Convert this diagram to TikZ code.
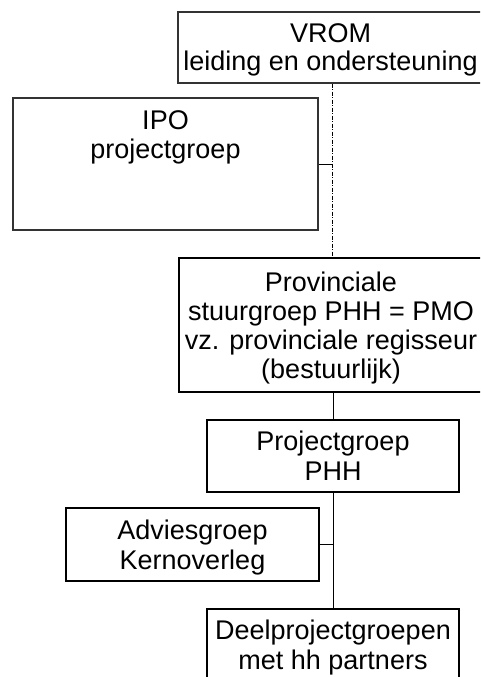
\documentclass[tikz,border=0pt]{standalone}
\usepackage{fontspec}
\setmainfont{Liberation Sans}
\begin{document}
\begin{tikzpicture}[x=1pt,y=1pt,
  boxbase/.style={draw, rectangle, inner sep=0pt, align=center, text depth=0pt,
    font=\fontsize{27}{30}\selectfont},
  thinbox/.style={boxbase, draw=black!80, line width=1.3pt},
  midbox/.style={boxbase, line width=1.7pt},
  thickbox/.style={boxbase, line width=2.3pt},
  conn/.style={draw, line width=0.9pt},
  dashline/.style={draw, line width=0.8pt, dash pattern=on 4pt off 1.5pt on 1pt off 1.5pt}]
\useasboundingbox (0,0) rectangle (480,-677);
\clip (0,0) rectangle (480,-677);

\node[thinbox, minimum width=305pt, minimum height=71pt,
  font=\fontsize{27}{28}\selectfont] (vrom) at (330.5,-47.5)
  {VROM\\leiding en ondersteuning};
\node[thinbox, minimum width=305pt, minimum height=132pt,
  font=\fontsize{27}{29}\selectfont] (ipo) at (165.5,-164)
  {IPO\\projectgroep\\\mbox{}\\\mbox{}};
\node[thickbox, minimum width=304pt, minimum height=134pt,
  font=\fontsize{27}{29}\selectfont] (prov) at (331,-325)
  {Provinciale\\stuurgroep PHH = PMO\\vz. provinciale regisseur\\(bestuurlijk)};
\node[midbox, minimum width=252pt, minimum height=72pt] (proj) at (333,-456)
  {Projectgroep\\PHH};
\node[midbox, minimum width=253pt, minimum height=73pt] (adv) at (192.5,-544.5)
  {Adviesgroep\\Kernoverleg};
\node[midbox, minimum width=252pt, minimum height=72pt] (deel) at (333,-645)
  {Deelprojectgroepen\\met hh partners};

\coordinate (j1) at (332,-164);
\draw[dashline] (vrom.south -| j1) -- (prov.north -| j1);
\draw[conn] (ipo.east) -- (j1);
\draw[conn] (prov.south -| proj.north) -- (proj.north);
\draw[conn] (proj.south) -- (deel.north);
\coordinate (j2) at (proj.south |- adv.east);
\draw[conn] (adv.east) -- (j2);
\end{tikzpicture}
\end{document}
